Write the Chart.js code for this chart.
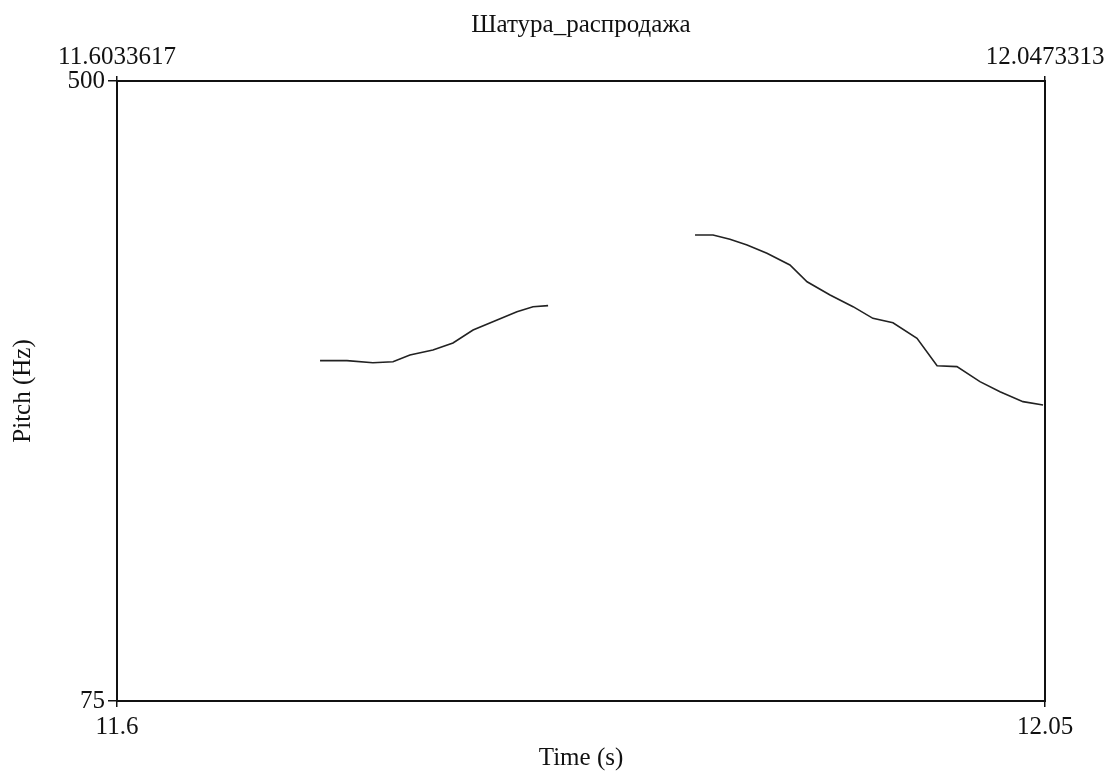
<!DOCTYPE html>
<html>
<head>
<meta charset="utf-8">
<script src="https://cdn.jsdelivr.net/npm/chart.js@4/dist/chart.umd.min.js"></script>
<style>
html,body{margin:0;padding:0;background:#fff;}
canvas{display:block;}
</style>
</head>
<body>
<canvas id="c" width="1114" height="771"></canvas>
<script>
const chartTitle = "Шатура_распродажа";
const xMin = 11.6033617, xMax = 12.0473313;
const yMin = 75, yMax = 500;
const topTickLabels = ["11.6033617", "12.0473313"];
const bottomTickLabels = ["11.6", "12.05"];
const yTickLabels = ["75", "500"];

const seg1Time = [11.7005, 11.7134, 11.7258, 11.7354, 11.7435, 11.7545, 11.7641, 11.7737, 11.7852, 11.7947, 11.8024, 11.8096];
const seg1Hz   = [308.3, 308.3, 306.9, 307.6, 312.2, 315.6, 320.4, 329.3, 336.2, 341.9, 345.3, 346.0];
const seg2Time = [11.8799, 11.8885, 11.8966, 11.9048, 11.9143, 11.9253, 11.9335, 11.9445, 11.9555, 11.9650, 11.9746, 11.9861, 11.9957, 12.0052, 12.0162, 12.0258, 12.0368, 12.0464];
const seg2Hz   = [394.4, 394.4, 391.5, 387.6, 381.9, 373.9, 362.4, 353.3, 345.3, 337.3, 334.3, 323.6, 304.8, 304.2, 293.9, 287.0, 280.2, 277.9];

const pts = (t, v) => t.map((x, i) => ({x: x, y: v[i]}));
const FONT = "'Liberation Serif', 'Times New Roman', serif";
const tickFont = {family: FONT, size: 25, lineHeight: 1.2};

new Chart(document.getElementById('c'), {
  type: 'line',
  data: {
    datasets: [
      {data: pts(seg1Time, seg1Hz), borderColor: '#222', borderWidth: 1.6, pointRadius: 0, tension: 0, fill: false},
      {data: pts(seg2Time, seg2Hz), borderColor: '#222', borderWidth: 1.6, pointRadius: 0, tension: 0, fill: false}
    ]
  },
  options: {
    responsive: false,
    animation: false,
    devicePixelRatio: 1,
    layout: {padding: 0},
    plugins: {
      legend: {display: false},
      tooltip: {enabled: false},
      title: {
        display: true, text: chartTitle, fullSize: false, color: '#111',
        font: {family: FONT, size: 25, weight: 'normal', lineHeight: 1.2},
        padding: {top: 10, bottom: 0}
      }
    },
    scales: {
      x: {
        type: 'linear', position: 'bottom', min: xMin, max: xMax,
        afterBuildTicks: s => { s.ticks = [{value: xMin}, {value: xMax}]; },
        afterFit: s => { s.height = 70; },
        ticks: {callback: (v, i) => bottomTickLabels[i], font: tickFont, color: '#111', padding: 5, maxRotation: 0, autoSkip: false},
        grid: {drawOnChartArea: false, drawTicks: true, tickLength: 6, color: '#111', lineWidth: 1.5},
        border: {display: true, color: '#111', width: 2},
        title: {display: true, text: 'Time (s)', color: '#111', font: {family: FONT, size: 25, lineHeight: 1}, padding: {top: -2, bottom: 0}}
      },
      x2: {
        type: 'linear', position: 'top', min: xMin, max: xMax,
        afterBuildTicks: s => { s.ticks = [{value: xMin}, {value: xMax}]; },
        afterFit: s => { s.height = 41; },
        ticks: {callback: (v, i) => topTickLabels[i], font: tickFont, color: '#111', padding: 4, maxRotation: 0, autoSkip: false},
        grid: {drawOnChartArea: false, drawTicks: true, tickLength: 5, color: '#111', lineWidth: 1.5},
        border: {display: true, color: '#111', width: 2}
      },
      y: {
        type: 'linear', position: 'left', min: yMin, max: yMax,
        afterBuildTicks: s => { s.ticks = [{value: yMin}, {value: yMax}]; },
        afterFit: s => { s.width = 117; },
        ticks: {callback: (v, i) => yTickLabels[i], font: tickFont, color: '#111', padding: 3, autoSkip: false},
        grid: {drawOnChartArea: false, drawTicks: true, tickLength: 9, color: '#111', lineWidth: 1.5},
        border: {display: true, color: '#111', width: 2},
        title: {display: true, text: 'Pitch (Hz)', color: '#111', font: {family: FONT, size: 25, lineHeight: 1.2}, padding: {top: 8, bottom: 0}}
      },
      y2: {
        type: 'linear', position: 'right', min: yMin, max: yMax,
        afterFit: s => { s.width = 69; },
        ticks: {display: false},
        grid: {display: false, drawOnChartArea: false, drawTicks: false},
        border: {display: true, color: '#111', width: 2}
      }
    }
  }
});
</script>
</body>
</html>
